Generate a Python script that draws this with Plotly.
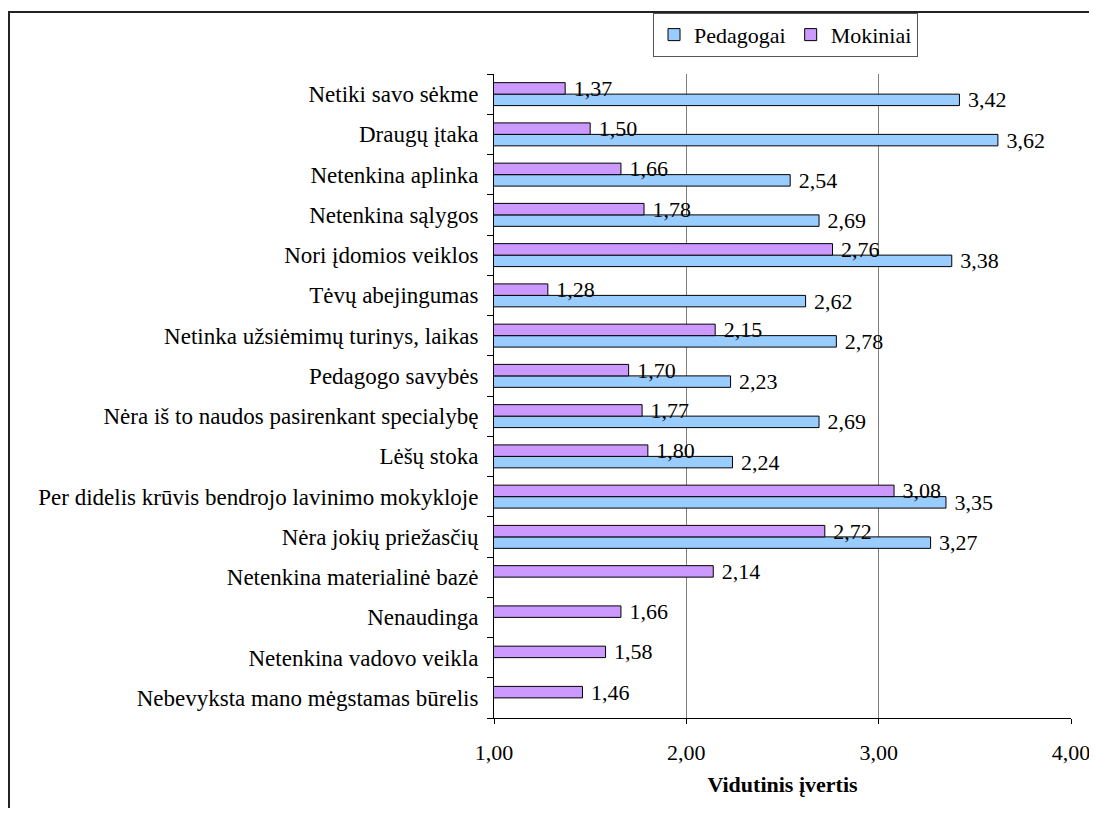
import plotly.graph_objects as go

categories = [
    "Netiki savo sėkme",
    "Draugų įtaka",
    "Netenkina aplinka",
    "Netenkina sąlygos",
    "Nori įdomios veiklos",
    "Tėvų abejingumas",
    "Netinka užsiėmimų turinys, laikas",
    "Pedagogo savybės",
    "Nėra iš to naudos pasirenkant specialybę",
    "Lėšų stoka",
    "Per didelis krūvis bendrojo lavinimo mokykloje",
    "Nėra jokių priežasčių",
    "Netenkina materialinė bazė",
    "Nenaudinga",
    "Netenkina vadovo veikla",
    "Nebevyksta mano mėgstamas būrelis",
]
pedagogai = [3.42, 3.62, 2.54, 2.69, 3.38, 2.62, 2.78, 2.23, 2.69, 2.24, 3.35, 3.27,
             None, None, None, None]
mokiniai = [1.37, 1.50, 1.66, 1.78, 2.76, 1.28, 2.15, 1.70, 1.77, 1.80, 3.08, 2.72,
            2.14, 1.66, 1.58, 1.46]
x_ticks = [1, 2, 3, 4]

FONT = "Liberation Serif, Tinos, Times New Roman, serif"
FS = 22

fig = go.Figure()
fig.add_trace(go.Bar(
    y=categories, x=pedagogai, name="Pedagogai", orientation="h",
    marker=dict(color="#99CCFF", line=dict(color="black", width=1)),
    texttemplate=" %{x:.2f}", textposition="outside", constraintext="none",
    textfont=dict(family=FONT, size=FS, color="black"), cliponaxis=False,
))
fig.add_trace(go.Bar(
    y=categories, x=mokiniai, name="Mokiniai", orientation="h",
    marker=dict(color="#CC99FF", line=dict(color="black", width=1)),
    texttemplate=" %{x:.2f}", textposition="outside", constraintext="none",
    textfont=dict(family=FONT, size=FS, color="black"), cliponaxis=False,
))

# page body has an 8px margin, so the figure is sized/shifted to compensate
fig.update_layout(
    width=1089, height=800,
    margin=dict(l=486, r=26, t=66, b=90, autoexpand=False),
    paper_bgcolor="white", plot_bgcolor="white",
    font=dict(family=FONT, size=FS, color="black"),
    separators=", ",
    barmode="group", bargap=0.43, bargroupgap=0,
    showlegend=True,
    legend=dict(
        orientation="h", x=0.2756, y=1.095, xanchor="left", yanchor="top",
        bordercolor="#555555", borderwidth=1, bgcolor="white",
        font=dict(family=FONT, size=FS), itemwidth=30,
    ),
    xaxis=dict(
        range=[1, 4], tickvals=x_ticks, tickformat=".2f",
        showgrid=True, gridcolor="#808080", gridwidth=1,
        showline=True, linecolor="black", linewidth=1,
        ticks="outside", ticklen=5, tickcolor="black", ticklabelstandoff=10,
        zeroline=False, automargin=False,
        title=dict(text="<b>Vidutinis įvertis</b>", standoff=12,
                   font=dict(family=FONT, size=FS)),
    ),
    yaxis=dict(
        categoryorder="array", categoryarray=categories[::-1],
        showline=True, linecolor="black", linewidth=1,
        ticks="outside", ticklen=6, tickcolor="black", tickson="boundaries",
        ticklabelstandoff=10, tickfont=dict(family=FONT, size=23),
        showgrid=False, zeroline=False, automargin=False,
    ),
    shapes=[dict(
        type="rect", xref="paper", yref="paper",
        x0=-0.8406, x1=1.08, y0=-0.2, y1=1.0963,
        line=dict(color="#222222", width=2), layer="below",
    )],
)

fig.write_html("out.html")
